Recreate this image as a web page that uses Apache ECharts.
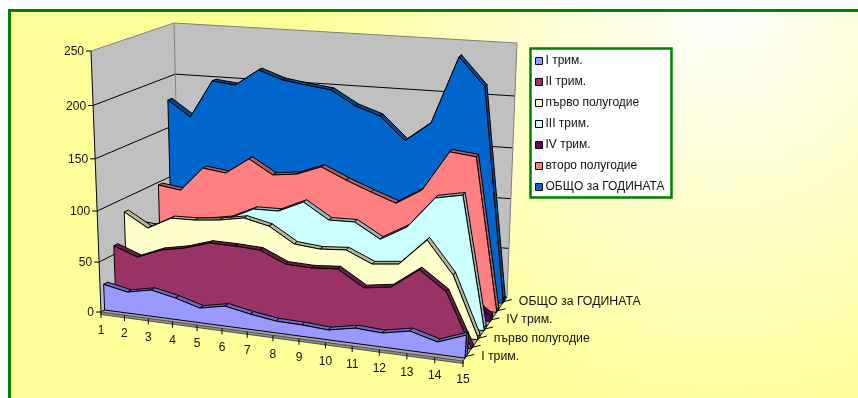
<!DOCTYPE html>
<html>
<head>
<meta charset="utf-8">
<style>html,body{margin:0;padding:0;background:#fff}#c{width:858px;height:398px}</style>
<script src="https://cdn.jsdelivr.net/npm/echarts@6/dist/echarts.min.js"></script>
</head>
<body>
<div id="c"></div>
<script>
const categories = ['1','2','3','4','5','6','7','8','9','10','11','12','13','14','15'];
const valueTicks = [0,50,100,150,200,250];
const seriesNames = ['I трим.','II трим.','първо полугодие','III трим.','IV трим.','второ полугодие','ОБЩО за ГОДИНАТА'];
const depthLabels = ['I трим.','','първо полугодие','','IV трим.','','ОБЩО за ГОДИНАТА'];
const trim1 = [25.9,21.2,26.3,21.4,14.6,19.8,15.1,11.6,11.1,9.6,14.8,13.5,18.8,11.8,21.9];
const trim2 = [58.6,49.9,59.7,64.5,72.2,72,70.9,60.1,59.3,61.3,46,49.9,69.3,51.5,1];
const halfFirst = [86.6,73.1,85.4,86,88.5,93.1,87.7,72.9,70.7,72.6,61.7,64.5,90.3,59.7,2.6];
const trim3 = [70,68,78,80,84.3,95.7,96.1,107.3,92.2,92.8,78.6,93,123.2,128.3,2.5];
const trim4 = [28,26,41,35,47,22,24.5,22,26,16,21,22,31,23,5];
const halfSecond = [97.2,94,118.2,115.2,131.2,117.2,120.1,129.2,118.2,108.6,99.6,114.9,153.8,151,2];
const yearTotal = [177.5,162.2,199.3,196.8,213,204.9,201.4,198.5,184.6,176.4,154.1,173.1,237.7,211.3,4];
const allValues = [trim1,trim2,halfFirst,trim3,trim4,halfSecond,yearTotal];
const faceColors = ['#9999ff','#993366','#ffffcc','#ccffff','#660066','#ff8080','#0066cc'];
const topColors  = ['#6b6bc4','#661f44','#b8b892','#94b8b8','#470047','#b85c5c','#004a94'];

const FONT = 'Liberation Sans';
const lerp = (a,b,f)=>[a[0]+(b[0]-a[0])*f, a[1]+(b[1]-a[1])*f];
// the eight corners of the view box
const box = {
  fb0:[101,312], fb1:[463,361], bb0:[180,268], bb1:[507,297],
  ft0:[91,51],   ft1:[480,84],  bt0:[174,23],  bt1:[517,43]
};
function project(t,d,h){
  const u = 0.9*t + 0.1*t*t;
  const w = h - 0.055*h*(1-h);
  const bottom = lerp(lerp(box.fb0,box.fb1,u), lerp(box.bb0,box.bb1,u), d);
  const top = lerp(lerp(box.ft0,box.ft1,u), lerp(box.bt0,box.bt1,u), d);
  return lerp(bottom, top, w);
}
// convert library coordinates to plot fractions, then to the sheared view
function toView(api, params, i, val, d){
  const cs = params.coordSys;
  const p = api.coord([i,val]);
  return project((p[0]-cs.x)/cs.width, d, (cs.y+cs.height-p[1])/cs.height);
}
const N = seriesNames.length;
const ink = '#000';

function renderWall(params, api){
  const i = params.dataIndex, val = api.value(1), kids = [];
  if(i===0){
    kids.push({type:'polygon',shape:{points:[box.fb0,box.ft0,box.bt0,box.bb0]},style:{fill:'#c0c0c0',stroke:'none'}});
    kids.push({type:'polygon',shape:{points:[box.bb0,box.bt0,box.bt1,box.bb1]},style:{fill:'#c0c0c0',stroke:'none'}});
    kids.push({type:'polygon',shape:{points:[box.fb0,box.bb0,box.bb1,box.fb1]},style:{fill:'#a6a6a6',stroke:'none'}});
  }
  const a = toView(api,params,0,val,0), b = toView(api,params,0,val,1), c = toView(api,params,14,val,1);
  const atEdge = val===250;
  kids.push({type:'polyline',shape:{points:[a,b,c]},style:{stroke:atEdge?'#808080':ink,lineWidth:1,fill:'none'}});
  kids.push({type:'line',shape:{x1:a[0]-5,y1:a[1],x2:a[0],y2:a[1]},style:{stroke:ink,lineWidth:1}});
  kids.push({type:'text',x:a[0]-7,y:a[1]+1,style:{text:String(val),fill:'#111',font:'12px "'+FONT+'"',align:'right',verticalAlign:'middle'}});
  if(atEdge){
    kids.push({type:'line',shape:{x1:box.ft0[0],y1:box.ft0[1],x2:box.fb0[0],y2:box.fb0[1]},style:{stroke:ink,lineWidth:1}});
    kids.push({type:'line',shape:{x1:box.bt0[0],y1:box.bt0[1],x2:box.bb0[0],y2:box.bb0[1]},style:{stroke:'#808080',lineWidth:1}});
    kids.push({type:'line',shape:{x1:box.bt1[0],y1:box.bt1[1],x2:box.bb1[0],y2:box.bb1[1]},style:{stroke:'#808080',lineWidth:1}});
    // floor slab edge
    const s = box.fb0, e = box.fb1;
    kids.push({type:'polygon',shape:{points:[s,e,[e[0],e[1]+2.5],[s[0],s[1]+2.5]]},style:{fill:'#909090',stroke:'#333',lineWidth:0.8}});
    kids.push({type:'polyline',shape:{points:[e,box.bb1]},style:{stroke:'#222',lineWidth:1,fill:'none'}});
  }
  return {type:'group',children:kids};
}
function renderXTick(params, api){
  const i = params.dataIndex, p = toView(api,params,i,0,0);
  return {type:'group',children:[
    {type:'line',shape:{x1:p[0],y1:p[1],x2:p[0],y2:p[1]+6},style:{stroke:ink,lineWidth:1}},
    {type:'text',x:p[0],y:p[1]+19,style:{text:categories[i],fill:'#111',font:'12px "'+FONT+'"',align:'center',verticalAlign:'middle'}}
  ]};
}
function renderDepthTick(params, api){
  const k = params.dataIndex, p = toView(api,params,14,0,(k+0.5)/N), kids = [];
  kids.push({type:'line',shape:{x1:p[0],y1:p[1],x2:p[0]+8,y2:p[1]-2},style:{stroke:ink,lineWidth:1}});
  if(depthLabels[k]) kids.push({type:'text',x:p[0]+15,y:p[1],style:{text:depthLabels[k],fill:'#111',font:'12.3px "'+FONT+'"',align:'left',verticalAlign:'middle'}});
  return {type:'group',children:kids};
}
function renderArea(k){
  return function(params, api){
    if(params.dataIndex !== categories.length-1) return null;
    const vals = allValues[k], n = vals.length, d0 = (k+0.32)/N, d1 = (k+0.68)/N, kids = [];
    const front = vals.map((v,i)=>toView(api,params,i,v,d0));
    const back = vals.map((v,i)=>toView(api,params,i,v,d1));
    for(let i=0;i<n-1;i++){
      kids.push({type:'polygon',shape:{points:[front[i],front[i+1],back[i+1],back[i]]},
        style:{fill:topColors[k],stroke:ink,lineWidth:1,lineJoin:'round'}});
    }
    const fbR = toView(api,params,n-1,0,d0), bbR = toView(api,params,n-1,0,d1);
    kids.push({type:'polygon',shape:{points:[front[n-1],back[n-1],bbR,fbR]},style:{fill:topColors[k],stroke:ink,lineWidth:1}});
    const fbL = toView(api,params,0,0,d0);
    kids.push({type:'polygon',shape:{points:[fbL].concat(front,[fbR])},
      style:{fill:faceColors[k],stroke:ink,lineWidth:1,lineJoin:'round'}});
    return {type:'group',children:kids};
  };
}
const series = [
  {type:'custom',name:'axes-y',z:1,coordinateSystem:'cartesian2d',silent:true,data:valueTicks.map(v=>[0,v]),renderItem:renderWall,clip:false},
  {type:'custom',name:'axes-x',z:9,coordinateSystem:'cartesian2d',silent:true,data:categories.map((c,i)=>[i,0]),renderItem:renderXTick,clip:false},
  {type:'custom',name:'axes-z',z:9,coordinateSystem:'cartesian2d',silent:true,data:seriesNames.map(()=>[14,0]),renderItem:renderDepthTick,clip:false}
];
seriesNames.forEach((name,k)=>{
  series.push({type:'custom',name,z:8-k,coordinateSystem:'cartesian2d',silent:true,clip:false,
    itemStyle:{color:faceColors[k]},
    data:allValues[k].map((v,i)=>[i,v]),renderItem:renderArea(k)});
});
const chart = echarts.init(document.getElementById('c'),null,{width:858,height:398});
chart.setOption({
  animation:false,
  grid:{left:101,top:51,width:362,height:261,containLabel:false},
  xAxis:{type:'category',data:categories,boundaryGap:false,show:false},
  yAxis:{type:'value',min:0,max:250,interval:50,show:false},
  legend:{data:seriesNames,orient:'vertical',left:530,top:50,icon:'rect',itemWidth:7,itemHeight:7,itemGap:9,z:20,selectedMode:false,
    itemStyle:{borderColor:'#000',borderWidth:1},
    textStyle:{fontFamily:FONT,fontSize:12,color:'#111',padding:[0,0,0,-2]}},
  graphic:[
    {type:'rect',z:-10,silent:true,shape:{x:0,y:0,width:858,height:398},style:{fill:'#fff'}},
    {type:'rect',z:-9,silent:true,shape:{x:8,y:9,width:850,height:389},
      style:{fill:new echarts.graphic.RadialGradient(720,5,420,[{offset:0,color:'#ffffff'},{offset:1,color:'#ffff99'}],true)}},
    {type:'rect',z:-8,silent:true,shape:{x:8,y:9,width:3,height:389},style:{fill:'#008000'}},
    {type:'rect',z:-8,silent:true,shape:{x:8,y:9,width:850,height:3},style:{fill:'#008000'}},
    {type:'rect',z:19,silent:true,shape:{x:530.5,y:48.5,width:141,height:149},style:{fill:'#fff',stroke:'#008000',lineWidth:2.5}}
  ],
  series
});
</script>
</body>
</html>
